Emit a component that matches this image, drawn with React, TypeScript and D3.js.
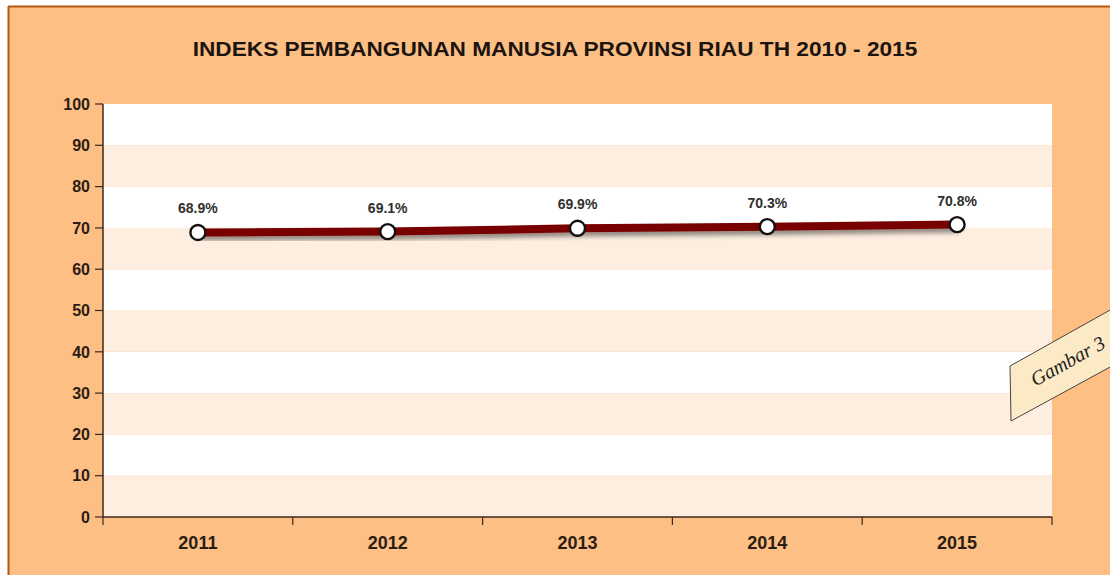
import React from "react";
import * as d3 from "d3";

const categories = ["2011", "2012", "2013", "2014", "2015"];
const values = [68.9, 69.1, 69.9, 70.3, 70.8];
const valueLabels = ["68.9%", "69.1%", "69.9%", "70.3%", "70.8%"];
const yTicks = [0, 10, 20, 30, 40, 50, 60, 70, 80, 90, 100];
const title = "INDEKS PEMBANGUNAN MANUSIA PROVINSI RIAU TH 2010 - 2015";

export default function App() {
  const W = 1110, H = 575;
  const left = 103, right = 1052, top = 104, bottom = 517;
  const x = d3.scaleBand().domain(categories).range([left, right]).padding(0);
  const y = d3.scaleLinear().domain([0, 100]).range([bottom, top]);
  const cx = (c: string) => (x(c) as number) + x.bandwidth() / 2;
  const line = d3.line<number>().x((_, i) => cx(categories[i])).y((v) => y(v));
  const bands = yTicks.slice(0, -1).map((t, i) => ({ lo: t, hi: yTicks[i + 1], shade: i % 2 === 0 }));
  const font = "'Liberation Sans', Arial, sans-serif";
  const tickXs = [...categories.map((c) => x(c) as number), right];

  return (
    <svg width={W} height={H} style={{ position: "absolute", left: 0, top: 0 }} fontFamily={font}>
      <defs>
        <filter id="sh" x="-5%" y="-50%" width="110%" height="250%">
          <feGaussianBlur in="SourceAlpha" stdDeviation="2.5" />
          <feOffset dx="2" dy="4" result="b" />
          <feComponentTransfer><feFuncA type="linear" slope="0.45" /></feComponentTransfer>
          <feMerge><feMergeNode /><feMergeNode in="SourceGraphic" /></feMerge>
        </filter>
      </defs>
      <rect x={0} y={0} width={W} height={H} fill="#ffffff" />
      <rect x={8} y={6} width={W - 8} height={H - 6} fill="#FDBF84" />
      <line x1={8} y1={6.5} x2={W} y2={6.5} stroke="#B4570F" strokeWidth={2} />
      <line x1={8.5} y1={6} x2={8.5} y2={H} stroke="#B4570F" strokeWidth={2} />

      <text x={555} y={56} textAnchor="middle" fontSize={21} fontWeight="bold" fill="#1b1410"
        transform="translate(555 0) scale(1.08 1) translate(-555 0)">{title}</text>

      {bands.map((b, i) => (
        <rect key={i} x={left} y={y(b.hi)} width={right - left} height={y(b.lo) - y(b.hi)} fill={b.shade ? "#FDEEE0" : "#FFFFFF"} />
      ))}

      {/* y axis */}
      <line x1={left} y1={top} x2={left} y2={bottom} stroke="#3b2a1c" strokeWidth={1.5} />
      {yTicks.map((t) => (
        <g key={t}>
          <line x1={left - 8} x2={left} y1={y(t)} y2={y(t)} stroke="#3b2a1c" strokeWidth={1.2} />
          <text x={left - 13} y={y(t)} dy="0.36em" textAnchor="end" fontSize={16} fontWeight="bold" fill="#2b1d14">{t}</text>
        </g>
      ))}

      {/* x axis */}
      <line x1={left} y1={bottom} x2={right} y2={bottom} stroke="#3b2a1c" strokeWidth={1.5} />
      {tickXs.map((tx, i) => (
        <line key={i} x1={tx} x2={tx} y1={bottom} y2={bottom + 8} stroke="#3b2a1c" strokeWidth={1.2} />
      ))}
      {categories.map((c) => (
        <text key={c} x={cx(c)} y={549} textAnchor="middle" fontSize={18} fontWeight="bold" fill="#2b1d14">{c}</text>
      ))}

      <path d={line(values) || ""} fill="none" stroke="#780606" strokeWidth={8} filter="url(#sh)" />
      {values.map((v, i) => (
        <g key={i}>
          <circle cx={cx(categories[i])} cy={y(v)} r={7.5} fill="#ffffff" stroke="#111" strokeWidth={2.4} />
          <text x={cx(categories[i])} y={y(v) - 19} textAnchor="middle" fontSize={14} fontWeight="bold" fill="#2f2f2f">{valueLabels[i]}</text>
        </g>
      ))}

      {/* Gambar 3 tag */}
      <g>
        <path d="M1010,366 L1112,309 L1112,366 L1011,421 Z" fill="#FCE9C6" stroke="#444" strokeWidth={1} />
        <text x={1071} y={367} transform="rotate(-29 1071 367)" textAnchor="middle" fontSize={20} fontStyle="italic" fontFamily="'Liberation Serif', 'DejaVu Serif', serif" fill="#222">Gambar 3</text>
      </g>
    </svg>
  );
}
